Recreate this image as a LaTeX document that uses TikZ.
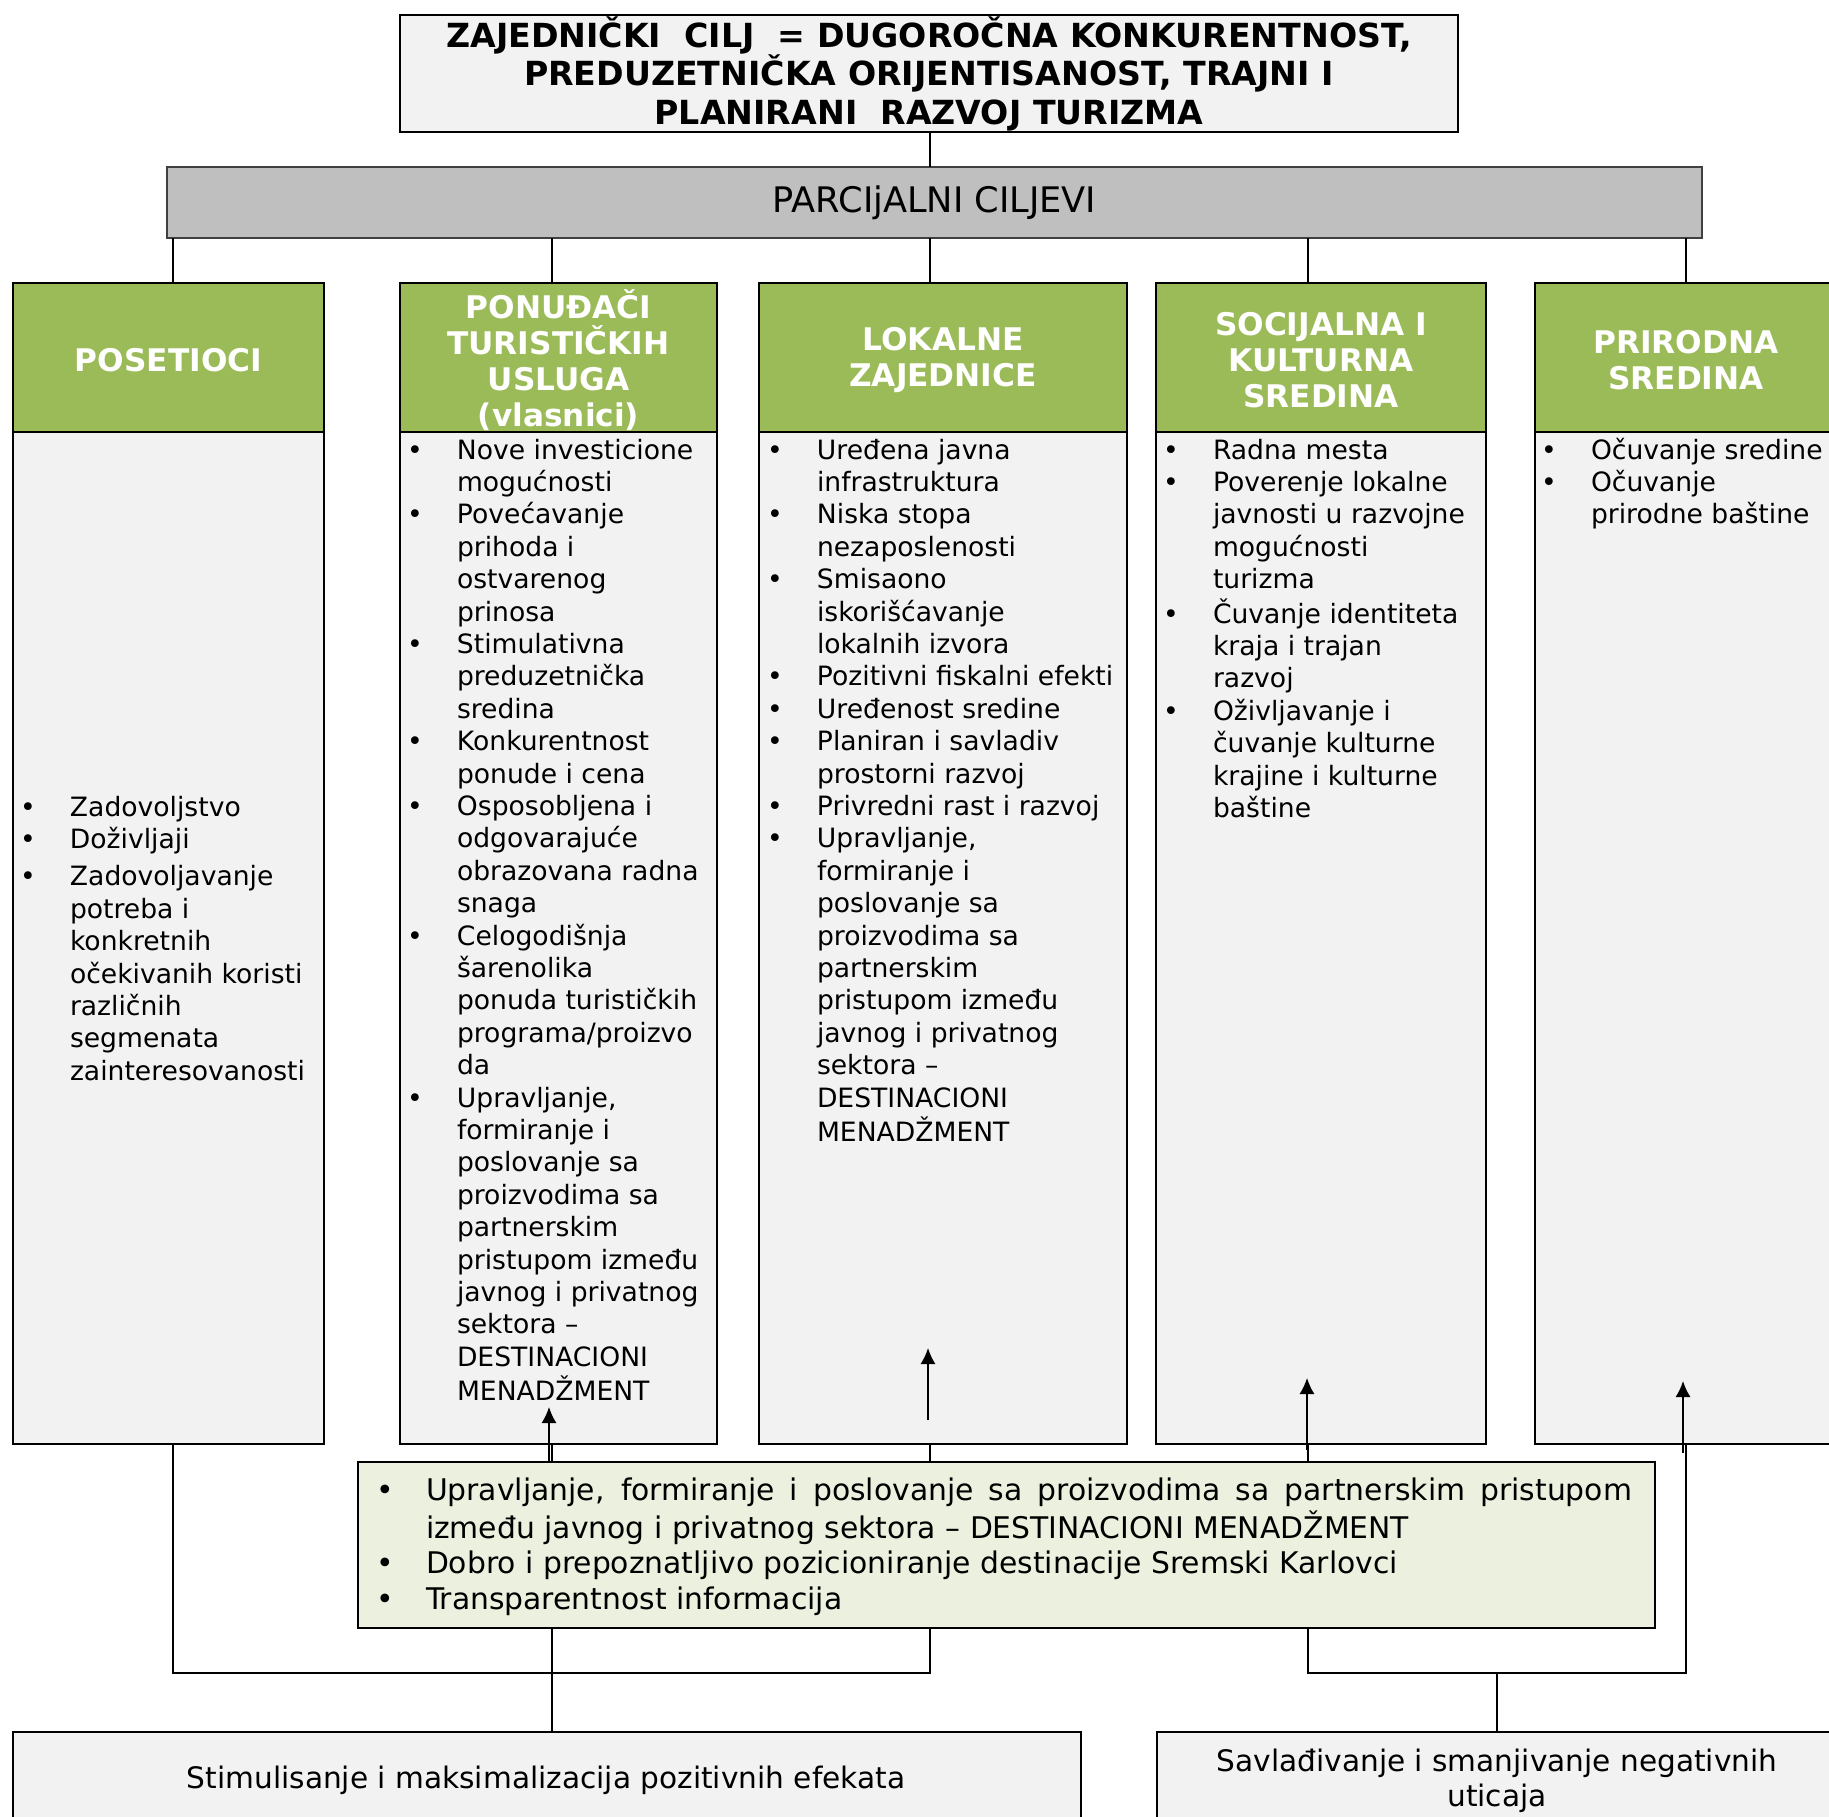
\documentclass[tikz,border=0pt]{standalone}
\usepackage{fontspec}
\setmainfont{DejaVu Sans}
\usetikzlibrary{fit,arrows.meta}
\definecolor{boxgray}{HTML}{F2F2F2}
\definecolor{pargray}{HTML}{BFBFBF}
\definecolor{hdrgreen}{HTML}{9BBB59}
\definecolor{lightgreen}{HTML}{EBF1DE}
\begin{document}
\begin{tikzpicture}[x=0.5pt,y=-0.5pt,
  boxframe/.style={draw=black, line width=1pt, inner sep=0pt, outer sep=0pt},
  hdr/.style={boxframe, fill=hdrgreen},
  hdrtext/.style={inner sep=0pt, yshift=-1.2pt, text=white, font=\fontsize{15.6pt}{18pt}\selectfont\bfseries, align=center},
  colbody/.style={boxframe, fill=boxgray},
  ltext/.style={inner sep=0pt, outer sep=0pt, anchor=base west, font=\fontsize{13.3pt}{16.2pt}\selectfont},
  gtext/.style={inner sep=0pt, outer sep=0pt, anchor=base west, font=\fontsize{14.9pt}{17.8pt}\selectfont},
  btext/.style={inner sep=0pt, align=center, font=\fontsize{14.8pt}{17.8pt}\selectfont},
  conn/.style={line width=0.75pt},
  arr/.style={line width=0.75pt, -{Latex[length=8pt,width=7.5pt]}}
]
\useasboundingbox (0,0) rectangle (1829,1816);
\clip (0,0) rectangle (1829,1816);
\fill[white] (0,0) rectangle (1829,1816);

% connector x positions
\coordinate (x1) at (173,0);
\coordinate (x2) at (552,0);
\coordinate (x3) at (930,0);
\coordinate (x4) at (1308,0);
\coordinate (x5) at (1686,0);
\coordinate (xm) at (1497,0);
\coordinate (busy) at (0,1673);

% top box
\node[boxframe, fill=boxgray, fit={(400,15) (1458,132)}] (top) {};
\node[inner sep=0pt, align=center, font=\fontsize{16.6pt}{19.25pt}\selectfont\bfseries] (toptext) at (top.center)
  {ZAJEDNIČKI\ \ CILJ\ \ = DUGOROČNA KONKURENTNOST,\\PREDUZETNIČKA ORIJENTISANOST, TRAJNI I\\PLANIRANI\ \ RAZVOJ TURIZMA};

% partial goals bar
\node[draw=black!75, line width=1.2pt, inner sep=0pt, outer sep=0pt, fill=pargray,
  fit={(167,167) (1702,238)}] (parc) {};
\node[inner sep=0pt, font=\fontsize{17.6pt}{20pt}\selectfont] (parctext) at (parc.center) {PARCIjALNI CILJEVI};

\draw[conn] (x3 |- top.south) -- (x3 |- parc.north);

% headers
\node[hdr, fit={(13,283) (324,432)}] (h1) {};
\node[hdr, fit={(400,283) (717,432)}] (h2) {};
\node[hdr, fit={(759,283) (1127,432)}] (h3) {};
\node[hdr, fit={(1156,283) (1486,432)}] (h4) {};
\node[hdr, fit={(1535,283) (1837,432)}] (h5) {};
\node[hdrtext] (h1t) at (h1.center) {POSETIOCI};
\node[hdrtext] (h2t) at (h2.center) {PONUĐAČI\\TURISTIČKIH\\USLUGA\\(vlasnici)};
\node[hdrtext] (h3t) at (h3.center) {LOKALNE\\ZAJEDNICE};
\node[hdrtext] (h4t) at (h4.center) {SOCIJALNA I\\KULTURNA\\SREDINA};
\node[hdrtext] (h5t) at (h5.center) {PRIRODNA\\SREDINA};

% bodies
\node[colbody, fit={(13,432) (324,1444)}] (b1) {};
\node[colbody, fit={(400,432) (717,1444)}] (b2) {};
\node[colbody, fit={(759,432) (1127,1444)}] (b3) {};
\node[colbody, fit={(1156,432) (1486,1444)}] (b4) {};
\node[colbody, fit={(1535,432) (1837,1444)}] (b5) {};

% connectors bar -> headers
\draw[conn] (x1 |- parc.south) -- (x1 |- h1.north);
\draw[conn] (x2 |- parc.south) -- (x2 |- h2.north);
\draw[conn] (x3 |- parc.south) -- (x3 |- h3.north);
\draw[conn] (x4 |- parc.south) -- (x4 |- h4.north);
\draw[conn] (x5 |- parc.south) -- (x5 |- h5.north);

% bottom boxes
\node[boxframe, fill=boxgray, fit={(13,1732) (1081,1840)}] (bl) {};
\node[boxframe, fill=boxgray, fit={(1157,1732) (1837,1840)}] (br) {};
\node[btext] (blt) at (546,1780) {Stimulisanje i maksimalizacija pozitivnih efekata};
\node[btext] (brt) at (1497,1781) {Savlađivanje i smanjivanje negativnih\\uticaja};

% lower connectors
\draw[conn] (x1 |- b1.south) -- (x1 |- busy) -- (x3 |- busy) -- (x3 |- b3.south);
\draw[conn] (x2 |- b2.south) -- (x2 |- bl.north);
\draw[conn] (x4 |- b4.south) -- (x4 |- busy) -- (x5 |- busy) -- (x5 |- b5.south);
\draw[conn] (xm |- busy) -- (xm |- br.north);

% green box
\node[boxframe, fill=lightgreen, fit={(358,1462) (1655,1628)}] (green) {};
\node[gtext] (gt) at (376,1500) {\begin{tabular}[t]{@{}p{25pt}@{}l@{}}
\textbullet & \makebox[603pt][s]{Upravljanje, formiranje i poslovanje sa proizvodima sa partnerskim pristupom}\\
 & između javnog i privatnog sektora – DESTINACIONI MENADŽMENT\\
\textbullet & Dobro i prepoznatljivo pozicioniranje destinacije Sremski Karlovci\\
\textbullet & Transparentnost informacija
\end{tabular}};

% column texts
\node[ltext] (t1) at (20,816) {\begin{tabular}[t]{@{}p{25pt}@{}l@{}}
\textbullet & Zadovoljstvo\\
\textbullet & Doživljaji\\[2.5pt]
\textbullet & Zadovoljavanje\\
 & potreba i\\
 & konkretnih\\
 & očekivanih koristi\\
 & različnih\\
 & segmenata\\
 & zainteresovanosti
\end{tabular}};

\node[ltext] (t2) at (407,459) {\begin{tabular}[t]{@{}p{25pt}@{}l@{}}
\textbullet & Nove investicione\\
 & mogućnosti\\
\textbullet & Povećavanje\\
 & prihoda i\\
 & ostvarenog\\
 & prinosa\\
\textbullet & Stimulativna\\
 & preduzetnička\\
 & sredina\\
\textbullet & Konkurentnost\\
 & ponude i cena\\
\textbullet & Osposobljena i\\
 & odgovarajuće\\
 & obrazovana radna\\
 & snaga\\
\textbullet & Celogodišnja\\
 & šarenolika\\
 & ponuda turističkih\\
 & programa/proizvo\\
 & da\\
\textbullet & Upravljanje,\\
 & formiranje i\\
 & poslovanje sa\\
 & proizvodima sa\\
 & partnerskim\\
 & pristupom između\\
 & javnog i privatnog\\
 & sektora –\\
 & DESTINACIONI\\
 & MENADŽMENT
\end{tabular}};

\node[ltext] (t3) at (767,459) {\begin{tabular}[t]{@{}p{25pt}@{}l@{}}
\textbullet & Uređena javna\\
 & infrastruktura\\
\textbullet & Niska stopa\\
 & nezaposlenosti\\
\textbullet & Smisaono\\
 & iskorišćavanje\\
 & lokalnih izvora\\
\textbullet & Pozitivni fiskalni efekti\\
\textbullet & Uređenost sredine\\
\textbullet & Planiran i savladiv\\
 & prostorni razvoj\\
\textbullet & Privredni rast i razvoj\\
\textbullet & Upravljanje,\\
 & formiranje i\\
 & poslovanje sa\\
 & proizvodima sa\\
 & partnerskim\\
 & pristupom između\\
 & javnog i privatnog\\
 & sektora –\\
 & DESTINACIONI\\
 & MENADŽMENT
\end{tabular}};

\node[ltext] (t4) at (1163,459) {\begin{tabular}[t]{@{}p{25pt}@{}l@{}}
\textbullet & Radna mesta\\
\textbullet & Poverenje lokalne\\
 & javnosti u razvojne\\
 & mogućnosti\\
 & turizma\\
\textbullet & Čuvanje identiteta\\
 & kraja i trajan\\
 & razvoj\\
\textbullet & Oživljavanje i\\
 & čuvanje kulturne\\
 & krajine i kulturne\\
 & baštine
\end{tabular}};

\node[ltext] (t5) at (1541,459) {\begin{tabular}[t]{@{}p{25pt}@{}l@{}}
\textbullet & Očuvanje sredine\\
\textbullet & Očuvanje\\
 & prirodne baštine
\end{tabular}};

% arrows
\coordinate (a2) at (549,1407);
\coordinate (a3b) at (928,1420);
\coordinate (a3) at (928,1348);
\coordinate (a4b) at (1307,1450);
\coordinate (a4) at (1307,1378);
\coordinate (a5b) at (1683,1453);
\coordinate (a5) at (1683,1381);
\draw[arr] (a2 |- green.north) -- (a2);
\draw[arr] (a3b) -- (a3);
\draw[arr] (a4b) -- (a4);
\draw[arr] (a5b) -- (a5);
\end{tikzpicture}
\end{document}
